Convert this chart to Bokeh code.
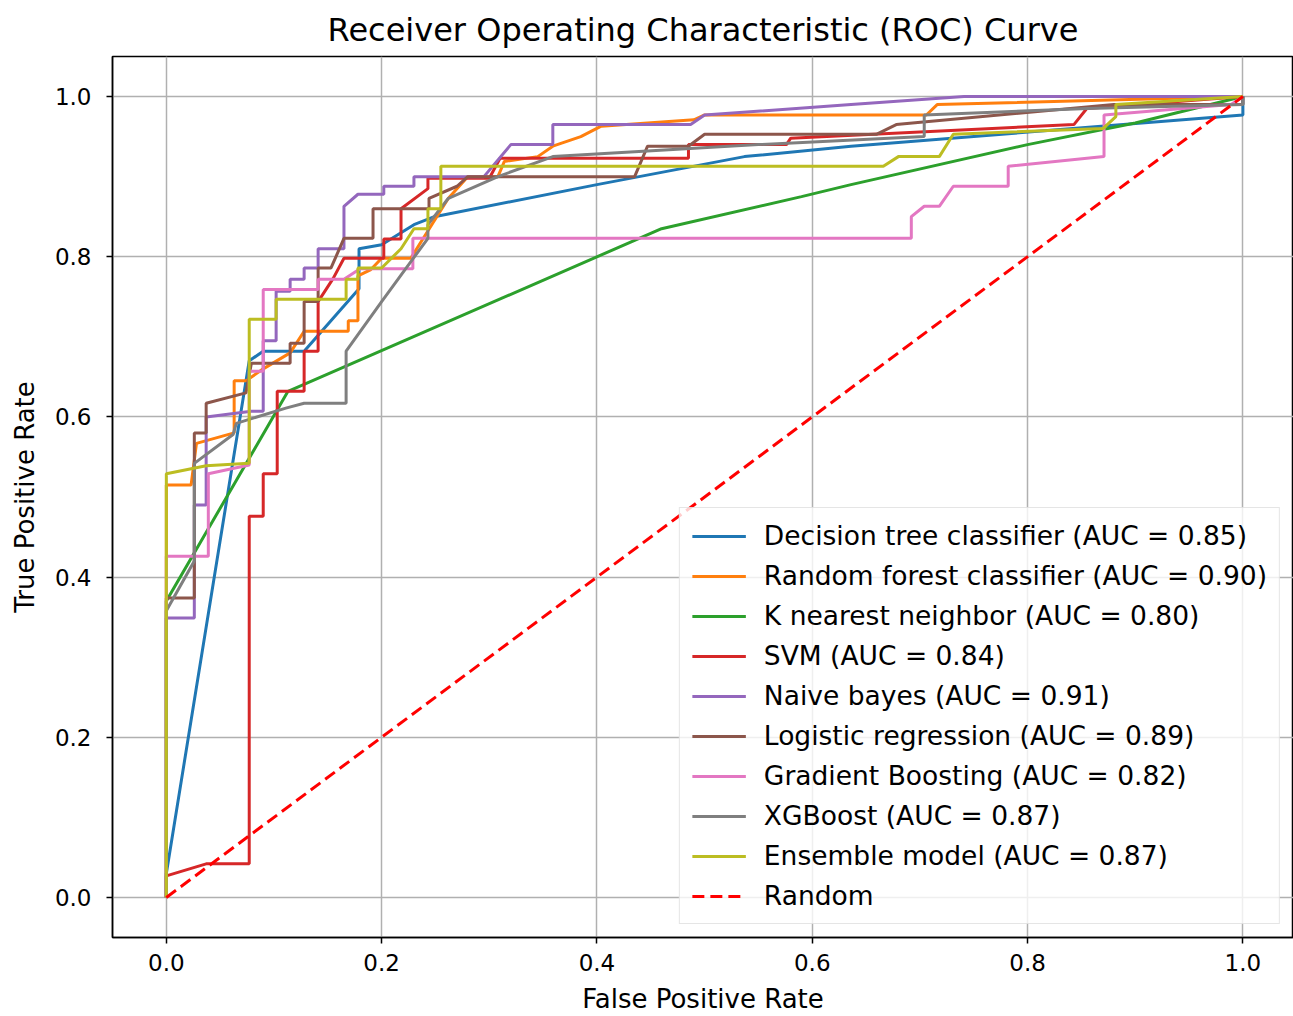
from bokeh.plotting import figure
from bokeh.models import Range1d, FixedTicker, PrintfTickFormatter, Legend, LegendItem
from bokeh.embed import file_html
from bokeh.resources import INLINE

# ---- data ----
dt_fpr = [0, 0, 0.077, 0.09, 0.128, 0.179, 0.179, 0.2, 0.23, 0.249, 0.4, 0.537, 0.636, 1.0, 1.0]
dt_tpr = [0, 0.03, 0.67, 0.682, 0.682, 0.76, 0.81, 0.815, 0.84, 0.85, 0.89, 0.925, 0.938, 0.977, 1.0]

rf_fpr = [0, 0, 0.023, 0.028, 0.063, 0.063, 0.074, 0.09, 0.115, 0.128, 0.169, 0.169, 0.178, 0.178, 0.19,
          0.2, 0.227, 0.262, 0.28, 0.308, 0.314, 0.345, 0.359, 0.385, 0.404, 0.49, 0.5, 0.706, 0.716, 1.0]
rf_tpr = [0, 0.515, 0.515, 0.567, 0.58, 0.645, 0.645, 0.66, 0.68, 0.707, 0.707, 0.72, 0.72, 0.776, 0.784,
          0.798, 0.798, 0.873, 0.9, 0.9, 0.919, 0.925, 0.938, 0.95, 0.963, 0.971, 0.977, 0.977, 0.99, 1.0]

knn_fpr = [0, 0, 0.113, 0.46, 0.59, 0.636, 0.8, 0.9, 1.0]
knn_tpr = [0, 0.37, 0.632, 0.835, 0.875, 0.89, 0.94, 0.967, 1.0]

svm_fpr = [0, 0, 0.037, 0.077, 0.077, 0.09, 0.09, 0.103, 0.103, 0.128, 0.128, 0.141, 0.141, 0.155, 0.165,
           0.202, 0.202, 0.218, 0.218, 0.243, 0.243, 0.3, 0.31, 0.485, 0.485, 0.576, 0.58, 0.843, 0.855, 1.0]
svm_tpr = [0, 0.027, 0.042, 0.042, 0.476, 0.476, 0.529, 0.529, 0.632, 0.632, 0.682, 0.682, 0.744, 0.773, 0.798,
           0.798, 0.822, 0.822, 0.86, 0.885, 0.898, 0.898, 0.923, 0.923, 0.94, 0.94, 0.948, 0.965, 0.985, 1.0]

nb_fpr = [0, 0, 0.026, 0.026, 0.037, 0.037, 0.079, 0.09, 0.09, 0.102, 0.102, 0.115, 0.115, 0.128, 0.128, 0.141,
          0.141, 0.165, 0.165, 0.178, 0.202, 0.202, 0.23, 0.23, 0.295, 0.32, 0.359, 0.359, 0.487, 0.5, 0.636, 0.741, 1.0]
nb_tpr = [0, 0.349, 0.349, 0.49, 0.49, 0.6, 0.607, 0.607, 0.695, 0.695, 0.757, 0.757, 0.772, 0.772, 0.786, 0.786,
          0.81, 0.81, 0.863, 0.878, 0.878, 0.888, 0.888, 0.9, 0.9, 0.94, 0.94, 0.965, 0.965, 0.977, 0.99, 1.0, 1.0]

lr_fpr = [0, 0, 0.026, 0.026, 0.037, 0.037, 0.074, 0.079, 0.115, 0.115, 0.128, 0.128, 0.141, 0.141, 0.153, 0.165,
          0.192, 0.192, 0.244, 0.244, 0.27, 0.28, 0.435, 0.447, 0.485, 0.5, 0.66, 0.678, 0.88, 1.0, 1.0]
lr_tpr = [0, 0.374, 0.374, 0.58, 0.58, 0.617, 0.63, 0.667, 0.667, 0.692, 0.692, 0.744, 0.744, 0.786, 0.786, 0.823,
          0.823, 0.86, 0.86, 0.873, 0.888, 0.9, 0.9, 0.938, 0.938, 0.953, 0.953, 0.965, 0.99, 0.99, 1.0]

gb_fpr = [0, 0, 0.039, 0.039, 0.077, 0.077, 0.09, 0.09, 0.141, 0.141, 0.165, 0.18, 0.229, 0.229, 0.692, 0.692,
          0.704, 0.718, 0.731, 0.782, 0.782, 0.871, 0.871, 0.989, 1.0]
gb_tpr = [0, 0.426, 0.426, 0.529, 0.54, 0.657, 0.657, 0.759, 0.759, 0.772, 0.772, 0.785, 0.785, 0.823, 0.823, 0.85,
          0.863, 0.863, 0.888, 0.888, 0.913, 0.925, 0.977, 0.99, 1.0]

xgb_fpr = [0, 0, 0.026, 0.026, 0.062, 0.065, 0.111, 0.128, 0.167, 0.167, 0.2, 0.243, 0.243, 0.262, 0.308, 0.359,
           0.435, 0.55, 0.704, 0.704, 0.856, 1.0, 1.0]
xgb_tpr = [0, 0.358, 0.42, 0.542, 0.578, 0.592, 0.611, 0.617, 0.617, 0.682, 0.744, 0.823, 0.84, 0.873, 0.9, 0.925,
           0.931, 0.94, 0.95, 0.977, 0.985, 0.99, 1.0]

ens_fpr = [0, 0, 0.037, 0.077, 0.077, 0.102, 0.102, 0.167, 0.167, 0.178, 0.178, 0.2, 0.218, 0.23, 0.243, 0.243,
           0.255, 0.255, 0.666, 0.68, 0.718, 0.731, 0.87, 0.882, 0.882, 1.0]
ens_tpr = [0, 0.529, 0.539, 0.542, 0.722, 0.722, 0.747, 0.747, 0.772, 0.772, 0.786, 0.786, 0.81, 0.835, 0.835, 0.86,
           0.86, 0.913, 0.913, 0.925, 0.925, 0.953, 0.96, 0.975, 0.99, 1.0]

random_x = [0, 1]
random_y = [0, 1]

labels = [
    "Decision tree classifier (AUC = 0.85)",
    "Random forest classifier (AUC = 0.90)",
    "K nearest neighbor (AUC = 0.80)",
    "SVM (AUC = 0.84)",
    "Naive bayes (AUC = 0.91)",
    "Logistic regression (AUC = 0.89)",
    "Gradient Boosting (AUC = 0.82)",
    "XGBoost (AUC = 0.87)",
    "Ensemble model (AUC = 0.87)",
]
colors = ["#1f77b4", "#ff7f0e", "#2ca02c", "#d62728", "#9467bd", "#8c564b", "#e377c2", "#7f7f7f", "#bcbd22"]
series = [(dt_fpr, dt_tpr), (rf_fpr, rf_tpr), (knn_fpr, knn_tpr), (svm_fpr, svm_tpr), (nb_fpr, nb_tpr),
          (lr_fpr, lr_tpr), (gb_fpr, gb_tpr), (xgb_fpr, xgb_tpr), (ens_fpr, ens_tpr)]
ticks = [0.0, 0.2, 0.4, 0.6, 0.8, 1.0]

FONT = "DejaVu Sans"

p = figure(width=1293, height=1016, output_backend="svg", toolbar_location=None,
           x_range=Range1d(-0.05, 1.047), y_range=Range1d(-0.05, 1.05),
           min_border_left=112, min_border_right=0, min_border_top=55, min_border_bottom=79,
           title="Receiver Operating Characteristic (ROC) Curve")
p.background_fill_color = "white"
p.border_fill_color = "white"
p.outline_line_color = "black"
p.outline_line_width = 1.5

p.title.text_font = FONT
p.title.text_font_size = "32px"
p.title.text_font_style = "normal"
p.title.align = "center"
p.title.text_color = "black"
p.title.standoff = 16

for ax in (p.xaxis[0], p.yaxis[0]):
    ax.ticker = FixedTicker(ticks=ticks)
    ax.formatter = PrintfTickFormatter(format="%.1f")
    ax.major_label_text_font = FONT
    ax.major_label_text_font_size = "23px"
    ax.major_label_text_color = "black"
    ax.axis_label_text_font = FONT
    ax.axis_label_text_font_size = "26px"
    ax.axis_label_text_font_style = "normal"
    ax.axis_label_text_color = "black"
    ax.major_tick_out = 6
    ax.major_tick_in = 0
    ax.minor_tick_out = 0
    ax.minor_tick_in = 0
    ax.axis_line_color = "black"
    ax.axis_line_width = 1.5
    ax.major_tick_line_width = 1.5

p.xaxis.axis_label = "False Positive Rate"
p.yaxis.axis_label = "True Positive Rate"
p.xaxis.major_label_standoff = 10
p.xaxis.axis_label_standoff = 10
p.yaxis.major_label_standoff = 15
p.yaxis.axis_label_standoff = 12

for g in (p.xgrid[0], p.ygrid[0]):
    g.ticker = FixedTicker(ticks=ticks)
    g.grid_line_color = "#b0b0b0"
    g.grid_line_width = 1.5

items = []
for (fx, fy), lab, col in zip(series, labels, colors):
    r = p.line(fx, fy, line_color=col, line_width=3)
    items.append(LegendItem(label=lab, renderers=[r]))
rr = p.line(random_x, random_y, line_color="red", line_width=3, line_dash="12 6")
items.append(LegendItem(label="Random", renderers=[rr]))

legend = Legend(items=items, location="bottom_right")
legend.label_text_font = FONT
legend.label_text_font_size = "26.5px"
legend.label_text_color = "black"
legend.glyph_width = 54
legend.glyph_height = 30
legend.label_height = 30
legend.label_standoff = 18
legend.spacing = 9
legend.padding = 12
legend.margin = 13
legend.border_line_color = "#cccccc"
legend.border_line_width = 1.5
legend.background_fill_color = "white"
legend.background_fill_alpha = 0.8
p.add_layout(legend, "center")

open("out.html", "w").write(file_html(p, INLINE))
